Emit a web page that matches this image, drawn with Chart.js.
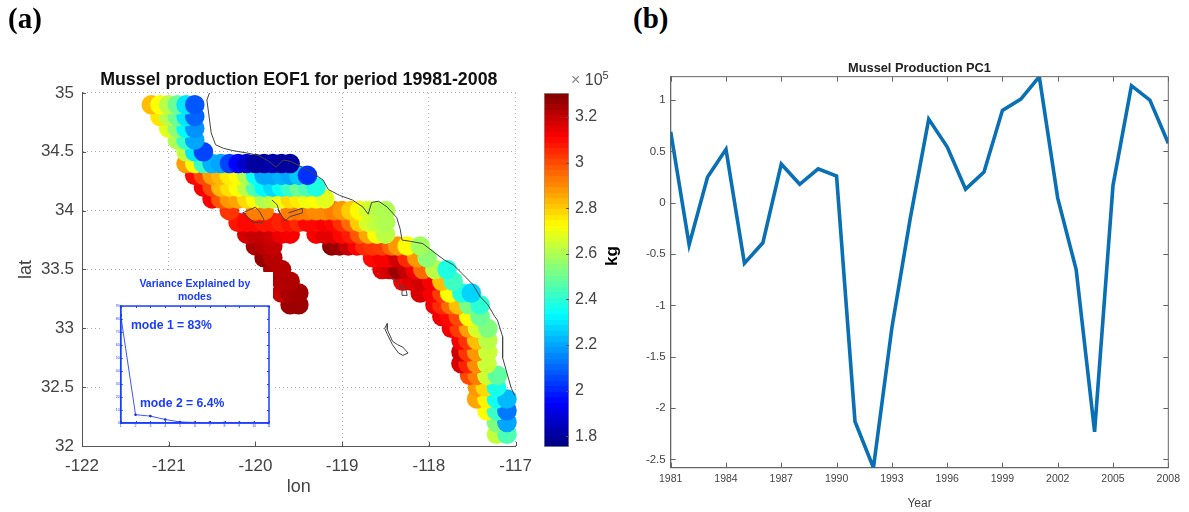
<!DOCTYPE html>
<html>
<head>
<meta charset="utf-8">
<script src="https://cdn.jsdelivr.net/npm/chart.js@4/dist/chart.umd.min.js"></script>
<style>
html, body { margin: 0; padding: 0; background: #fff; }
#page { position: relative; width: 1189px; height: 512px; overflow: hidden; font-family: "Liberation Sans", sans-serif; }
canvas { position: absolute; }
.txt { position: absolute; white-space: nowrap; }
.panel { font: bold 29px "Liberation Serif", serif; color: #000; top: 2px; }
.mode { font-weight: bold; font-size: 12.2px; color: #1a3cff; }
</style>
</head>
<body>
<div id="page">
  <canvas id="mapChart" width="542" height="512" style="left:0;top:0"></canvas>
  <canvas id="insetChart" width="170" height="168" style="left:103px;top:272px;background:#fff"></canvas>
  <canvas id="barChart" width="70" height="400" style="left:543px;top:70px"></canvas>
  <canvas id="pcChart" width="559" height="462" style="left:630px;top:50px"></canvas>
  <div class="txt panel" style="left:8px">(a)</div>
  <div class="txt panel" style="left:633px">(b)</div>
  <div class="txt mode" style="left:131px;top:318px">mode 1 = 83%</div>
  <div class="txt mode" style="left:140px;top:396px">mode 2 = 6.4%</div>
  <div class="txt" style="left:571px;top:71px;font-size:16px;color:#444"><span style="color:#888">×</span> 10<sup style="font-size:11px;line-height:0">5</sup></div>
  <div class="txt" style="left:602px;top:246px;font-size:17px;font-weight:bold;color:#000;transform:rotate(-90deg)">kg</div>
</div>
<script>
// EOF1 sites, one row per latitude, values in units of 1e5 kg
const rowLats = [32.1, 32.2, 32.3, 32.4, 32.5, 32.6, 32.7, 32.8, 32.9, 33.0, 33.1, 33.2, 33.3, 33.4, 33.5, 33.6, 33.7, 33.8, 33.9, 34.0, 34.1, 34.2, 34.3, 34.4, 34.5, 34.6, 34.7, 34.8, 34.9];
const rowLons = [
    [-117.22, -117.10],
    [-117.22, -117.10],
    [-117.33, -117.22, -117.10],
    [-117.45, -117.33, -117.22, -117.10],
    [-117.44, -117.35, -117.22],
    [-117.53, -117.44, -117.33, -117.21],
    [-117.63, -117.55, -117.45, -117.33],
    [-117.63, -117.55, -117.45, -117.32],
    [-117.63, -117.55, -117.45, -117.32],
    [-117.74, -117.65, -117.54, -117.44, -117.32],
    [-117.85, -117.76, -117.66, -117.54, -117.41],
    [-119.6, -119.5, -117.93, -117.85, -117.75, -117.66, -117.54, -117.41],
    [-119.7, -119.6, -119.5, -118.1, -117.96, -117.85, -117.76, -117.62, -117.51],
    [-119.7, -119.6, -118.3, -118.2, -118.09, -117.97, -117.85, -117.72],
    [-119.8, -119.7, -118.54, -118.45, -118.36, -118.25, -118.16, -118.07, -117.93, -117.79],
    [-119.9, -119.8, -118.65, -118.54, -118.45, -118.36, -118.25, -118.14, -118.02],
    [-120.0, -119.9, -119.8, -119.12, -119.03, -118.93, -118.83, -118.74, -118.65, -118.54, -118.43, -118.36, -118.25, -118.1],
    [-120.1, -120.0, -119.9, -119.8, -119.7, -119.6, -119.3, -119.2, -119.1, -119.0, -118.9, -118.8, -118.7, -118.6, -118.5],
    [-120.2, -120.1, -120.0, -119.9, -119.8, -119.7, -119.6, -119.5, -119.4, -119.3, -119.2, -119.1, -119.0, -118.9, -118.8, -118.7, -118.6, -118.5],
    [-120.3, -120.0, -119.9, -119.6, -119.5, -119.4, -119.3, -119.2, -119.1, -119.0, -118.9, -118.8, -118.7, -118.6, -118.5],
    [-120.5, -120.4, -120.3, -120.2, -120.1, -120.0, -119.9, -119.8, -119.7, -119.6, -119.5, -119.4, -119.3, -119.2],
    [-120.6, -120.5, -120.4, -120.3, -120.2, -120.1, -120.0, -119.9, -119.8, -119.7, -119.6, -119.5, -119.4, -119.3],
    [-120.7, -120.6, -120.5, -120.4, -120.3, -120.2, -120.1, -120.0, -119.9, -119.8, -119.7, -119.6, -119.5, -119.4],
    [-120.8, -120.7, -120.6, -120.5, -120.4, -120.3, -120.2, -120.1, -120.0, -119.9, -119.8, -119.7, -119.6],
    [-120.8, -120.7, -120.6],
    [-120.9, -120.8, -120.7],
    [-121.0, -120.9, -120.8, -120.7],
    [-121.1, -121.0, -120.9, -120.8, -120.7],
    [-121.2, -121.1, -121.0, -120.9, -120.8, -120.7]
];
const rowVals = [
    [2.63, 2.45],
    [2.53, 2.2],
    [2.72, 2.42, 2.13],
    [2.86, 2.74, 2.36, 2.23],
    [2.88, 2.78, 2.37],
    [3.0, 2.92, 2.65, 2.48],
    [3.17, 3.06, 2.9, 2.64],
    [3.18, 3.03, 2.88, 2.64],
    [3.12, 3.03, 2.82, 2.62],
    [3.13, 3.02, 2.87, 2.66, 2.53],
    [3.14, 3.1, 3.0, 2.72, 2.5],
    [3.26, 3.26, 3.13, 3.05, 2.95, 2.82, 2.52, 2.4],
    [3.2, 3.24, 3.25, 3.17, 3.12, 3.02, 2.72, 2.38, 2.27],
    [3.22, 3.23, 3.12, 3.15, 3.18, 3.12, 2.82, 2.43],
    [3.24, 3.22, 3.16, 3.18, 3.26, 3.2, 3.13, 2.95, 2.62, 2.38],
    [3.27, 3.22, 3.1, 3.12, 3.12, 3.18, 3.05, 2.88, 2.55],
    [3.24, 3.22, 3.2, 3.28, 3.26, 3.2, 3.12, 3.05, 3.03, 3.02, 2.96, 2.88, 2.72, 2.58],
    [3.18, 3.2, 3.2, 3.18, 3.14, 3.12, 3.12, 3.15, 3.15, 3.1, 3.07, 2.98, 2.86, 2.72, 2.62],
    [3.08, 3.1, 3.1, 3.08, 3.08, 3.06, 3.08, 3.05, 3.1, 3.1, 3.12, 3.1, 3.04, 2.95, 2.8, 2.66, 2.63, 2.6],
    [3.03, 2.92, 2.92, 2.92, 2.93, 2.92, 2.9, 2.9, 2.92, 2.88, 2.8, 2.73, 2.66, 2.62, 2.6],
    [3.12, 2.98, 2.88, 2.86, 2.78, 2.72, 2.6, 2.63, 2.7, 2.78, 2.75, 2.7, 2.72, 2.68],
    [3.12, 3.0, 2.83, 2.77, 2.72, 2.62, 2.45, 2.33, 2.28, 2.35, 2.42, 2.5, 2.45, 2.38],
    [3.1, 3.0, 2.87, 2.83, 2.75, 2.72, 2.6, 2.35, 2.2, 2.2, 2.22, 2.2, 2.25, 2.02],
    [2.87, 2.72, 2.42, 2.22, 2.2, 2.05, 1.95, 1.87, 1.8, 1.8, 1.82, 1.8, 1.8],
    [2.63, 2.3, 2.05],
    [2.6, 2.42, 2.2],
    [2.68, 2.55, 2.33, 2.17],
    [2.76, 2.62, 2.5, 2.3, 2.1],
    [2.82, 2.72, 2.62, 2.5, 2.3, 2.08]
];

// coast and islands, [lon, lat]
const coastLine = [[-120.53,35.0],[-120.56,34.94],[-120.54,34.83],[-120.51,34.66],[-120.46,34.56],[-120.37,34.53],[-120.26,34.51],[-120.1,34.49],[-119.97,34.47],[-119.87,34.43],[-119.76,34.37],[-119.68,34.43],[-119.6,34.42],[-119.49,34.38],[-119.34,34.32],[-119.22,34.26],[-119.16,34.18],[-119.03,34.13],[-118.88,34.09],[-118.76,34.03],[-118.7,33.97],[-118.66,34.07],[-118.58,34.08],[-118.48,34.03],[-118.37,33.94],[-118.33,33.84],[-118.31,33.75],[-118.22,33.74],[-118.07,33.72],[-117.93,33.64],[-117.82,33.58],[-117.72,33.54],[-117.61,33.46],[-117.49,33.37],[-117.41,33.27],[-117.32,33.2],[-117.24,33.1],[-117.21,33.07],[-117.15,32.93],[-117.15,32.75],[-117.1,32.62],[-117.05,32.49],[-117.01,32.43]];
const islandOne = [[-120.15,33.98],[-120.0,34.03],[-119.95,33.99],[-119.9,33.92],[-119.92,33.9],[-120.03,33.9],[-120.08,33.94],[-120.15,33.98]];
const islandTwo = [[-119.81,34.09],[-119.75,34.05],[-119.72,33.98],[-119.74,34.01],[-119.66,33.91],[-119.6,33.95],[-119.46,33.98],[-119.46,34.02],[-119.62,33.98]];
const islandThree = [[-118.43,33.42],[-118.37,33.4],[-118.33,33.37],[-118.27,33.35],[-118.25,33.28],[-118.31,33.28],[-118.31,33.34],[-118.37,33.37]];
const islandFour = [[-118.48,33.04],[-118.48,32.99],[-118.42,32.89],[-118.36,32.86],[-118.3,32.84],[-118.24,32.79],[-118.3,32.77],[-118.35,32.79],[-118.42,32.86],[-118.48,32.95],[-118.51,33.0],[-118.48,33.04]];

const lonTicks = [-122, -121, -120, -119, -118, -117];
const latTicks = [32, 32.5, 33, 33.5, 34, 34.5, 35];
const barTicks = [1.8, 2, 2.2, 2.4, 2.6, 2.8, 3, 3.2];
const barMin = 1.753;
const barMax = 3.305;

// variance explained inset
const modeNumbers = [1, 2, 3, 4, 5, 6, 7, 8, 9, 10, 11];
const modeVariance = [83, 6.4, 5.3, 2.7, 0.8, 0.4, 0.3, 0.2, 0.2, 0.1, 0.1];
const varianceTicks = [0, 10, 20, 30, 40, 50, 60, 70, 80, 90];

// PC1 series
const pcYears = [1981, 1982, 1983, 1984, 1985, 1986, 1987, 1988, 1989, 1990, 1991, 1992, 1993, 1994, 1995, 1996, 1997, 1998, 1999, 2000, 2001, 2002, 2003, 2004, 2005, 2006, 2007, 2008];
const pcValues = [0.69, -0.41, 0.25, 0.52, -0.59, -0.39, 0.377, 0.18, 0.33, 0.26, -2.13, -2.58, -1.22, -0.15, 0.815, 0.545, 0.133, 0.3, 0.9, 1.01, 1.228, 0.045, -0.65, -2.23, 0.17, 1.14, 1.0, 0.58];
const pcYearTicks = [1981, 1984, 1987, 1990, 1993, 1996, 1999, 2002, 2005, 2008];
const pcValueTicks = [-2.5, -2, -1.5, -1, -0.5, 0, 0.5, 1];

Chart.defaults.font.family = '"Liberation Sans", sans-serif';
Chart.defaults.animation = false;
Chart.defaults.responsive = false;
Chart.defaults.plugins.legend.display = false;
Chart.defaults.plugins.tooltip.enabled = false;

function jet(v) {
    const t = (v - barMin) / (barMax - barMin);
    const c = x => Math.round(255 * Math.max(0, Math.min(1, 1.5 - Math.abs(4 * t - x))));
    return 'rgb(' + c(3) + ',' + c(2) + ',' + c(1) + ')';
}

// MATLAB style ticks pointing into the axes
const innerTicks = {
    id: 'innerTicks',
    afterDatasetsDraw(chart, args, opts) {
        if (!opts.sides) return;
        const ctx = chart.ctx, a = chart.chartArea, len = opts.length;
        ctx.save();
        ctx.strokeStyle = opts.color;
        ctx.lineWidth = 1;
        ctx.beginPath();
        opts.sides.forEach(side => {
            if (side === 'left' || side === 'right') {
                chart.scales.y.ticks.forEach(t => {
                    const y = Math.round(chart.scales.y.getPixelForValue(t.value)) + 0.5;
                    const x0 = side === 'left' ? a.left : a.right;
                    ctx.moveTo(x0, y);
                    ctx.lineTo(side === 'left' ? x0 + len : x0 - len, y);
                });
            } else {
                chart.scales.x.ticks.forEach(t => {
                    const x = Math.round(chart.scales.x.getPixelForValue(t.value)) + 0.5;
                    const y0 = side === 'top' ? a.top : a.bottom;
                    ctx.moveTo(x, y0);
                    ctx.lineTo(x, side === 'top' ? y0 + len : y0 - len);
                });
            }
        });
        ctx.stroke();
        ctx.restore();
    }
};
Chart.register(innerTicks);

function toPoints(list) {
    return list.map(p => ({ x: p[0], y: p[1] }));
}

function outline(list) {
    return {
        type: 'scatter',
        data: toPoints(list),
        showLine: true,
        borderColor: '#444',
        borderWidth: 1,
        pointRadius: 0,
        order: 1
    };
}

const sitePoints = [];
const siteColors = [];
rowLats.forEach((lat, i) => {
    rowLons[i].forEach((lon, j) => {
        sitePoints.push({ x: lon, y: lat });
        siteColors.push(jet(rowVals[i][j]));
    });
});

// Map
new Chart(document.getElementById('mapChart'), {
    type: 'scatter',
    data: {
        datasets: [{
            data: sitePoints,
            pointBackgroundColor: siteColors,
            pointBorderWidth: 0,
            pointRadius: 9.8,
            clip: false,
            order: 2
        }, outline(coastLine), outline(islandOne), outline(islandTwo), outline(islandThree), outline(islandFour)]
    },
    options: {
        layout: { padding: { right: 24 } },
        plugins: {
            title: {
                display: true,
                text: 'Mussel production EOF1 for period 19981-2008',
                color: '#111',
                fullSize: false,
                font: { size: 17.8, weight: 'bold' },
                padding: { top: 69.3, bottom: 2.3 }
            },
            innerTicks: { sides: ['left', 'bottom'], color: '#555', length: 4 }
        },
        scales: {
            x: {
                type: 'linear',
                min: -122,
                max: -117,
                afterBuildTicks: s => { s.ticks = lonTicks.map(v => ({ value: v })); },
                afterFit: s => { s.height = 66; },
                grid: { color: '#aaa', drawTicks: false },
                border: { color: '#555', dash: [1, 3] },
                ticks: { color: '#444', font: { size: 17 }, padding: 10, maxRotation: 0, autoSkip: false, callback: v => String(v) },
                title: { display: true, text: 'lon', color: '#444', font: { size: 18 }, padding: { top: 0, bottom: 14 } }
            },
            y: {
                min: 32,
                max: 35,
                afterBuildTicks: s => { s.ticks = latTicks.map(v => ({ value: v })); },
                afterFit: s => { s.width = 82; },
                grid: { color: '#aaa', drawTicks: false },
                border: { color: '#555', dash: [1, 3] },
                ticks: { color: '#444', font: { size: 17 }, padding: 8, autoSkip: false, callback: v => String(v) },
                title: { display: true, text: 'lat', color: '#444', font: { size: 18 }, padding: { top: 15, bottom: 0 } }
            }
        }
    }
});

// Inset
const insetBlue = '#1a3cff';
new Chart(document.getElementById('insetChart'), {
    type: 'line',
    data: {
        labels: modeNumbers,
        datasets: [{
            data: modeVariance,
            borderColor: '#3c55ff',
            backgroundColor: '#1a2ccc',
            borderWidth: 1,
            pointRadius: 1.3,
            pointBorderWidth: 0
        }]
    },
    options: {
        layout: { padding: { right: 4 } },
        plugins: {
            title: {
                display: true,
                text: ['Variance Explained by', 'modes'],
                color: insetBlue,
                fullSize: false,
                font: { size: 10.5, weight: 'bold', lineHeight: 1.24 },
                padding: { top: 5.8, bottom: 2.2 }
            },
            innerTicks: { sides: ['left', 'right', 'top', 'bottom'], color: insetBlue, length: 2 }
        },
        scales: {
            x: {
                type: 'linear',
                min: 1,
                max: 11,
                afterBuildTicks: s => { s.ticks = modeNumbers.map(v => ({ value: v })); },
                afterFit: s => { s.height = 17; },
                grid: { display: false, drawTicks: false },
                border: { color: insetBlue, width: 1.5 },
                ticks: { color: insetBlue, font: { size: 3.5 }, padding: 1, maxRotation: 0, autoSkip: false }
            },
            y: {
                min: 0,
                max: 90,
                afterBuildTicks: s => { s.ticks = varianceTicks.map(v => ({ value: v })); },
                afterFit: s => { s.width = 17.7; },
                grid: { display: false, drawTicks: false },
                border: { color: insetBlue, width: 1.5 },
                ticks: { color: insetBlue, font: { size: 3.5 }, padding: 1, autoSkip: false }
            }
        }
    },
    plugins: [{
        id: 'insetFrame',
        afterDraw(chart) {
            const a = chart.chartArea, ctx = chart.ctx;
            ctx.save();
            ctx.strokeStyle = insetBlue;
            ctx.lineWidth = 1.5;
            ctx.strokeRect(a.left, a.top, a.width, a.height);
            ctx.restore();
        }
    }]
});

// Colour bar, 64 flat steps like the jet colormap
new Chart(document.getElementById('barChart'), {
    type: 'bar',
    data: {
        labels: ['kg'],
        datasets: [{
            data: [[barMin, barMax]],
            backgroundColor(ctx) {
                const a = ctx.chart.chartArea;
                if (!a) return '#888';
                const g = ctx.chart.ctx.createLinearGradient(0, a.bottom, 0, a.top);
                const steps = 64;
                for (let i = 0; i < steps; i++) {
                    const col = jet(barMin + (barMax - barMin) * (i + 0.5) / steps);
                    g.addColorStop(i / steps, col);
                    g.addColorStop((i + 1) / steps, col);
                }
                return g;
            },
            borderColor: '#999',
            borderWidth: 1,
            borderSkipped: false,
            categoryPercentage: 1,
            barPercentage: 1
        }]
    },
    options: {
        layout: { padding: { left: 1, top: 23, bottom: 23 } },
        plugins: {
            innerTicks: { sides: ['right'], color: '#555', length: 3 }
        },
        scales: {
            x: { display: false },
            y: {
                position: 'right',
                min: barMin,
                max: barMax,
                afterBuildTicks: s => { s.ticks = barTicks.map(v => ({ value: v })); },
                afterFit: s => { s.width = 44; },
                grid: { display: false, drawTicks: false },
                border: { display: false },
                ticks: { color: '#444', font: { size: 16 }, padding: 6, autoSkip: false, callback: v => String(v) }
            }
        }
    }
});

// PC1 time series
new Chart(document.getElementById('pcChart'), {
    type: 'line',
    data: {
        labels: pcYears,
        datasets: [{
            data: pcValues,
            borderColor: '#0a70b5',
            borderWidth: 3.6,
            pointRadius: 0,
            tension: 0
        }]
    },
    options: {
        layout: { padding: { right: 20.7 } },
        plugins: {
            title: {
                display: true,
                text: 'Mussel Production PC1',
                color: '#222',
                fullSize: false,
                font: { size: 12.8, weight: 'bold', lineHeight: 1.2 },
                padding: { top: 10.8, bottom: 0.5 }
            },
            innerTicks: { sides: ['left', 'right', 'top', 'bottom'], color: '#666', length: 5 }
        },
        scales: {
            x: {
                type: 'linear',
                min: 1981,
                max: 2008,
                afterBuildTicks: s => { s.ticks = pcYearTicks.map(v => ({ value: v })); },
                afterFit: s => { s.height = 44.3; },
                grid: { display: false, drawTicks: false },
                border: { color: '#666', width: 1.3 },
                ticks: { color: '#444', font: { size: 10.5 }, padding: 5, maxRotation: 0, autoSkip: false, callback: v => String(v) },
                title: { display: true, text: 'Year', color: '#444', font: { size: 12 }, padding: { top: 0, bottom: 1.5 } }
            },
            y: {
                min: -2.58,
                max: 1.228,
                afterBuildTicks: s => { s.ticks = pcValueTicks.map(v => ({ value: v })); },
                afterFit: s => { s.width = 40.7; },
                grid: { display: false, drawTicks: false },
                border: { color: '#666', width: 1.3 },
                ticks: { color: '#444', font: { size: 11.5 }, padding: 5, autoSkip: false, callback: v => String(v) }
            }
        }
    },
    plugins: [{
        id: 'pcFrame',
        afterDraw(chart) {
            const a = chart.chartArea, ctx = chart.ctx;
            ctx.save();
            ctx.strokeStyle = '#666';
            ctx.lineWidth = 1;
            ctx.beginPath();
            ctx.moveTo(a.left, a.top);
            ctx.lineTo(a.right, a.top);
            ctx.lineTo(a.right, a.bottom);
            ctx.stroke();
            ctx.restore();
        }
    }]
});
</script>
</body>
</html>
